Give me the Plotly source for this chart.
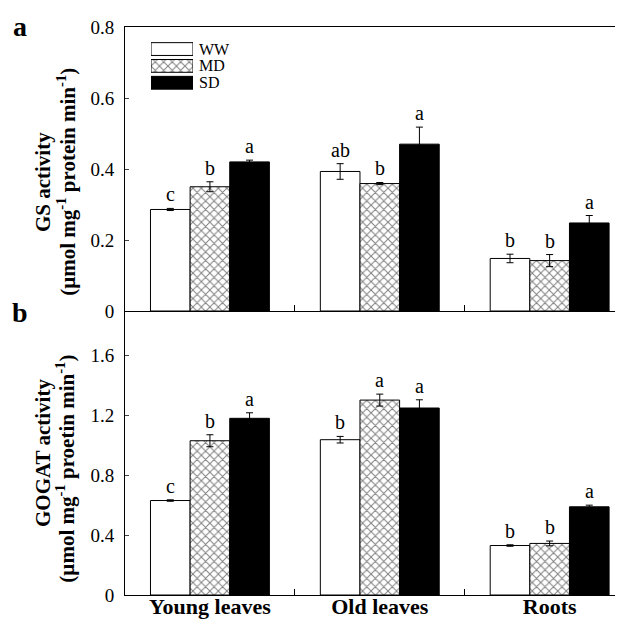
import plotly.graph_objects as go

categories = ["Young leaves", "Old leaves", "Roots"]
treatments = ["WW", "MD", "SD"]

gs_ww = [0.286, 0.393, 0.148]
gs_md = [0.350, 0.359, 0.142]
gs_sd = [0.420, 0.470, 0.248]
gs_ww_err = [0.003, 0.022, 0.012]
gs_md_err = [0.014, 0.003, 0.017]
gs_sd_err = [0.005, 0.048, 0.021]
gs_ww_let = ["c", "ab", "b"]
gs_md_let = ["b", "b", "b"]
gs_sd_let = ["a", "a", "a"]

gogat_ww = [0.632, 1.039, 0.331]
gogat_md = [1.032, 1.304, 0.345]
gogat_sd = [1.182, 1.251, 0.590]
gogat_ww_err = [0.005, 0.022, 0.005]
gogat_md_err = [0.040, 0.040, 0.016]
gogat_sd_err = [0.037, 0.055, 0.011]
gogat_ww_let = ["c", "b", "b"]
gogat_md_let = ["b", "a", "b"]
gogat_sd_let = ["a", "a", "a"]

FONT = "Liberation Serif"
def F(size):
    return dict(family=FONT, size=size, color="black")

hatch = dict(shape="x", fgcolor="black", bgcolor="white", size=6, solidity=0.3)
styles = {
    "WW": dict(color="white", pattern=None),
    "MD": dict(color="white", pattern=hatch),
    "SD": dict(color="black", pattern=None),
}

fig = go.Figure()
xpos = list(range(len(categories)))
bar_w = 0.7 / 3
offsets = [-bar_w, 0, bar_w]

panels = [
    ("x2", "y2", [gs_ww, gs_md, gs_sd], [gs_ww_err, gs_md_err, gs_sd_err], [gs_ww_let, gs_md_let, gs_sd_let]),
    ("x", "y", [gogat_ww, gogat_md, gogat_sd], [gogat_ww_err, gogat_md_err, gogat_sd_err], [gogat_ww_let, gogat_md_let, gogat_sd_let]),
]

annotations = []
for xa, ya, vals, errs, lets in panels:
    for i, t in enumerate(treatments):
        st = styles[t]
        marker = dict(color=st["color"], line=dict(color="black", width=1))
        if st["pattern"]:
            marker["pattern"] = st["pattern"]
        fig.add_trace(go.Bar(
            x=xpos, y=vals[i], name=t, xaxis=xa, yaxis=ya, marker=marker,
            offsetgroup=str(i), showlegend=False,
            error_y=dict(type="data", array=errs[i], color="black", thickness=1, width=3.5),
        ))
        for j in range(len(categories)):
            annotations.append(dict(
                x=xpos[j] + offsets[i], y=vals[i][j] + errs[i][j], xref=xa, yref=ya,
                text=lets[i][j], showarrow=False, yanchor="bottom", yshift=1,
                font=F(20),
            ))

# legend swatches drawn as horizontal bars on a small inset axis
leg_pos = [0, 1, 2]
for k, t in enumerate(treatments):
    st = styles[t]
    marker = dict(color=st["color"], line=dict(color="black", width=1))
    if st["pattern"]:
        marker["pattern"] = st["pattern"]
    fig.add_trace(go.Bar(
        y=[leg_pos[k]], x=[1], orientation="h", xaxis="x3", yaxis="y3", showlegend=False,
        marker=marker, width=0.76, hoverinfo="skip",
    ))
leg_top, leg_bot = 0.976, 0.887
for k, t in enumerate(treatments):
    yc = leg_top - (k + 0.5) * (leg_top - leg_bot) / 3
    annotations.append(dict(x=0.142, y=yc, xref="paper", yref="paper", text=t, showarrow=False,
                            xanchor="left", yanchor="middle", font=F(16)))

annotations.append(dict(x=-0.208, y=1.031, xref="paper", yref="paper", text="<b>a</b>", showarrow=False,
                        xanchor="center", yanchor="top", font=F(28)))
annotations.append(dict(x=-0.208, y=0.4965, xref="paper", yref="paper", text="<b>b</b>", showarrow=False,
                        xanchor="center", yanchor="middle", font=F(28)))

# y-axis titles (two rotated lines each)
ytitles = [
    ("<b>GS activity</b>", -0.162, 0.727),
    ("<b>(µmol mg<sup>-1</sup> protein min<sup>-1</sup>)</b>", -0.117, 0.727),
    ("<b>GOGAT activity</b>", -0.162, 0.250),
    ("<b>(µmol mg<sup>-1</sup> proetin min<sup>-1</sup>)</b>", -0.117, 0.222),
]
for txt, xp, yp in ytitles:
    annotations.append(dict(x=xp, y=yp, xref="paper", yref="paper", text=txt, showarrow=False,
                            textangle=-90, xanchor="center", yanchor="middle", font=F(21)))

axis_common = dict(showline=True, linecolor="black", linewidth=1, showgrid=False, zeroline=False)
xrange = [-0.5, 2.479]

fig.update_layout(
    width=623, height=621,
    margin=dict(l=117, r=0, t=19, b=34),
    plot_bgcolor="white", paper_bgcolor="white",
    barmode="group", bargap=0.3, bargroupgap=0,
    font=F(16),
    annotations=annotations,
    xaxis=dict(**axis_common, range=xrange, tickvals=xpos, ticktext=[f"<b>{c}</b>" for c in categories],
               ticks="", tickfont=F(22), anchor="y", domain=[0, 1], ticklabelstandoff=-8,
               minor=dict(tickvals=[0.5, 1.5], ticks="inside", ticklen=6, tickcolor="black")),
    yaxis=dict(**axis_common, domain=[0, 0.5], range=[0, 1.9], tickvals=[0, 0.4, 0.8, 1.2, 1.6],
               ticktext=["0", "0.4", "0.8", "1.2", "1.6"], ticks="inside", ticklen=4,
               tickfont=F(19), anchor="x", ticklabelstandoff=6),
    xaxis2=dict(**axis_common, range=xrange, tickvals=xpos, showticklabels=False, ticks="",
                anchor="y2", mirror=True, matches="x",
                minor=dict(tickvals=[0.5, 1.5], ticks="inside", ticklen=6, tickcolor="black")),
    yaxis2=dict(**axis_common, domain=[0.5, 1], range=[0, 0.8], tickvals=[0, 0.2, 0.4, 0.6, 0.8],
                ticktext=["0", "0.2", "0.4", "0.6", "0.8"], ticks="inside", ticklen=4,
                tickfont=F(19), anchor="x2", ticklabelstandoff=6),
    xaxis3=dict(domain=[0.0514, 0.1344], range=[0, 1], visible=False, anchor="y3", fixedrange=True),
    yaxis3=dict(domain=[leg_bot, leg_top], range=[2.5, -0.5], visible=False, anchor="x3", fixedrange=True),
)

fig.write_html("out.html")
